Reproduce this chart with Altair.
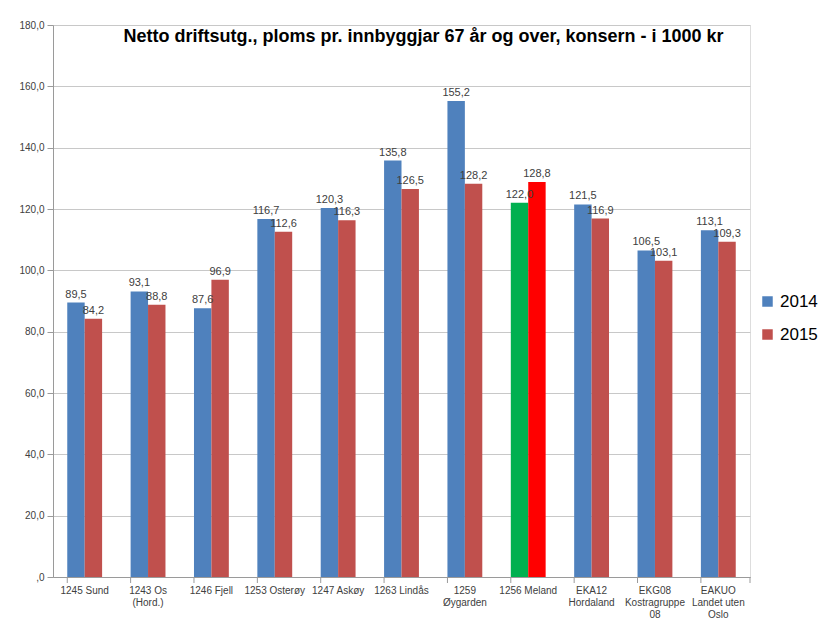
import altair as alt
import pandas as pd

categories = ["1245 Sund", "1243 Os|(Hord.)", "1246 Fjell", "1253 Osterøy", "1247 Askøy",
              "1263 Lindås", "1259|Øygarden", "1256 Meland", "EKA12|Hordaland",
              "EKG08|Kostragruppe|08", "EAKUO|Landet uten|Oslo"]
values_2014 = [89.5, 93.1, 87.6, 116.7, 120.3, 135.8, 155.2, 122.0, 121.5, 106.5, 113.1]
values_2015 = [84.2, 88.8, 96.9, 112.6, 116.3, 126.5, 128.2, 128.8, 116.9, 103.1, 109.3]
highlight = "1256 Meland"
y_ticks = [0, 20, 40, 60, 80, 100, 120, 140, 160, 180]

rows = []
for c, a, b in zip(categories, values_2014, values_2015):
    for s, v in (("2014", a), ("2015", b)):
        key = ("M" + s) if c == highlight else s
        rows.append({"cat": c, "series": s, "value": v, "key": key,
                     "label": f"{v:.1f}".replace(".", ",")})
df = pd.DataFrame(rows)

W, H = 697, 552
FONT = "Liberation Sans"

x_enc = alt.X("cat:N", sort=categories, title=None,
              scale=alt.Scale(paddingInner=0.45, paddingOuter=0.225),
              axis=alt.Axis(labelExpr="split(datum.label, '|')", labelAngle=0,
                            labelFontSize=10, labelColor="#404040", labelFont=FONT,
                            labelLineHeight=12, labelPadding=8, ticks=False,
                            domainColor="#9a9a9a", labelBaseline="top"))
xoff = alt.XOffset("series:N", sort=["2014", "2015"], scale=alt.Scale(paddingInner=0, paddingOuter=0))
y_enc = alt.Y("value:Q", title=None,
              scale=alt.Scale(domain=[0, 180], nice=False),
              axis=alt.Axis(values=y_ticks, labelFontSize=10, labelColor="#404040", labelFont=FONT,
                            labelExpr="datum.value == 0 ? ',0' : replace(format(datum.value, '.1f'), '.', ',')",
                            gridColor="#c8c8c8", domainColor="#9a9a9a", tickColor="#9a9a9a",
                            tickSize=6, labelPadding=3))

color = alt.Color("key:N",
                  scale=alt.Scale(domain=["2014", "2015", "M2014", "M2015"],
                                  range=["#4F81BD", "#C0504D", "#00B050", "#FF0000"]),
                  legend=alt.Legend(values=["2014", "2015"], title=None, orient="none",
                                    legendX=706, legendY=268, symbolType="square",
                                    symbolSize=110, symbolStrokeWidth=0, labelFontSize=17,
                                    labelFont=FONT, labelColor="#000000", rowPadding=15,
                                    labelOffset=4))

bars = alt.Chart(df).mark_bar().encode(x=x_enc, xOffset=xoff, y=y_enc, color=color)
texts = alt.Chart(df).mark_text(baseline="bottom", dy=-3, fontSize=11, font=FONT,
                                color="#404040").encode(
    x=alt.X("cat:N", sort=categories), xOffset=xoff, y="value:Q", text="label:N")

ticks_df = pd.DataFrame({"cat": categories})
xticks = alt.Chart(ticks_df).mark_rule(color="#9a9a9a").encode(
    x=alt.X("cat:N", sort=categories, bandPosition=0),
    y=alt.value(H), y2=alt.value(H + 6))
lasttick = alt.Chart(ticks_df.head(1)).mark_rule(color="#9a9a9a").encode(
    x=alt.value(W), y=alt.value(H), y2=alt.value(H + 6))

chart = alt.layer(bars, texts, xticks, lasttick).properties(
    width=W, height=H,
    autosize=alt.AutoSizeParams(type="none"),
    padding={"left": 45, "top": 17, "right": 72, "bottom": 41},
    title=alt.TitleParams("Netto driftsutg., ploms pr. innbyggjar 67 år og over, konsern - i 1000 kr",
                          anchor="middle", frame="group", fontSize=18, font=FONT,
                          fontWeight="bold", color="#000000", dy=26, dx=22, offset=0),
).configure_view(stroke=None).configure(background="white")

chart.save("out.html", embed_options={"renderer": "svg", "actions": False})
